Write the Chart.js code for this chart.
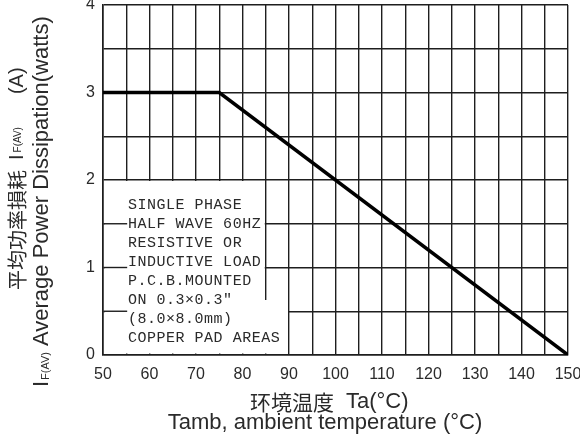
<!DOCTYPE html>
<html>
<head>
<meta charset="utf-8">
<script src="https://cdn.jsdelivr.net/npm/chart.js@4/dist/chart.umd.min.js"></script>
<style>
  html, body { margin: 0; padding: 0; background: #fff; }
  #wrap { width: 580px; height: 441px; }
</style>
</head>
<body>
<div id="wrap"><canvas id="chart" width="580" height="441"></canvas></div>
<script>
// derating curve: flat at 3 W up to 75 °C, then linear down to 0 at 150 °C
const temps = [50, 75, 150];
const power = [3, 3, 0];

const xTickLabels = [50, 60, 70, 80, 90, 100, 110, 120, 130, 140, 150];
const yTickLabels = [0, 1, 2, 3, 4];

const noteLines = [
    'SINGLE PHASE',
    'HALF WAVE 60HZ',
    'RESISTIVE OR',
    'INDUCTIVE LOAD',
    'P.C.B.MOUNTED',
    'ON 0.3\u00D70.3\u2033',
    '(8.0\u00D78.0mm)',
    'COPPER PAD AREAS'
];

const gridColor = '#1e1e1e';
const textColor = '#2a2a2a';

// draw a run of text pieces one after another along the current x direction
function drawRun(ctx, pieces) {
    let pos = 0;
    pieces.forEach(p => {
        pos += p.gap || 0;
        ctx.font = p.font;
        ctx.fillText(p.text, pos, p.shift || 0);
        pos += ctx.measureText(p.text).width;
    });
}

const notePlugin = {
    id: 'notebox',
    beforeDatasetsDraw(chart) {
        const { ctx } = chart;
        const x = chart.scales.x, y = chart.scales.y;
        const x0 = x.getPixelForValue(50) + 1.5;
        const x85 = x.getPixelForValue(85) - 1;
        const x90 = x.getPixelForValue(90) - 1;
        const yTop = y.getPixelForValue(2) + 1;
        const yStep = y.getPixelForValue(0.63);
        const yBot = y.getPixelForValue(0) - 1.5;

        ctx.save();
        // white area behind the note, covering the grid
        ctx.fillStyle = '#fff';
        ctx.beginPath();
        ctx.moveTo(x0, yTop);
        ctx.lineTo(x85, yTop);
        ctx.lineTo(x85, yStep);
        ctx.lineTo(x90, yStep);
        ctx.lineTo(x90, yBot);
        ctx.lineTo(x0, yBot);
        ctx.closePath();
        ctx.fill();

        // short grid stubs left of the text
        ctx.strokeStyle = gridColor;
        ctx.lineWidth = 1.4;
        [0.5, 1, 1.5].forEach(v => {
            const py = y.getPixelForValue(v);
            ctx.beginPath();
            ctx.moveTo(x0 - 1, py);
            ctx.lineTo(x.getPixelForValue(55.2), py);
            ctx.stroke();
        });

        ctx.fillStyle = textColor;
        ctx.font = '15px "Liberation Mono"';
        ctx.letterSpacing = '0.5px';
        ctx.textBaseline = 'middle';
        ctx.textAlign = 'left';
        const tx = x.getPixelForValue(55.4);
        noteLines.forEach((t, i) => ctx.fillText(t, tx, yTop + 24 + i * 19));
        ctx.restore();
    },
    afterDraw(chart) {
        const { ctx } = chart;
        const sans = '"Liberation Sans", Arial, sans-serif';
        const cjk = '"Noto Sans CJK JP", sans-serif';
        ctx.save();
        ctx.fillStyle = textColor;
        ctx.textBaseline = 'middle';
        ctx.textAlign = 'left';

        // y title, outer column (Chinese)
        ctx.save();
        ctx.translate(17, 290);
        ctx.rotate(-Math.PI / 2);
        drawRun(ctx, [
            { text: '平均功率損耗', font: '20px ' + cjk },
            { text: 'I', font: '20px ' + sans, gap: 10 },
            { text: 'F(AV)', font: '10px ' + sans, gap: 2, shift: 1 },
            { text: '(A)', font: '20px ' + sans, gap: 33 }
        ]);
        ctx.restore();

        // y title, inner column (English)
        ctx.save();
        ctx.translate(42, 387);
        ctx.rotate(-Math.PI / 2);
        drawRun(ctx, [
            { text: 'I', font: '22px ' + sans },
            { text: 'F(AV)', font: '11px ' + sans, gap: 1, shift: 4 },
            { text: 'Average Power Dissipation(watts)', font: '22px ' + sans, gap: 6 }
        ]);
        ctx.restore();

        // x title
        ctx.save();
        ctx.translate(250, 402);
        drawRun(ctx, [
            { text: '环境温度', font: '21px ' + cjk },
            { text: 'Ta', font: '22px ' + sans, gap: 12 },
            { text: '(°C)', font: '22px ' + sans }
        ]);
        ctx.restore();

        ctx.textAlign = 'center';
        ctx.font = '22px ' + sans;
        ctx.fillText('Tamb, ambient temperature (°C)', 325, 423);
        ctx.restore();
    }
};

new Chart(document.getElementById('chart').getContext('2d'), {
    type: 'line',
    data: {
        datasets: [{
            data: temps.map((t, i) => ({ x: t, y: power[i] })),
            borderColor: '#000',
            borderWidth: 3.5,
            pointRadius: 0,
            tension: 0,
            fill: false
        }]
    },
    options: {
        responsive: false,
        animation: false,
        layout: { padding: { left: 0, top: 5, right: 12, bottom: 0 }, autoPadding: false },
        plugins: { legend: { display: false }, tooltip: { enabled: false } },
        scales: {
            x: {
                type: 'linear',
                min: 50,
                max: 150,
                afterFit: s => { s.height = 86; s.paddingLeft = 0; s.paddingRight = 0; },
                border: { color: gridColor, width: 1.6 },
                grid: { color: gridColor, lineWidth: 1.4, drawTicks: false },
                ticks: {
                    stepSize: 5,
                    autoSkip: false,
                    maxRotation: 0,
                    padding: 10,
                    color: textColor,
                    font: { family: '"Liberation Sans", Arial, sans-serif', size: 16 },
                    callback: v => xTickLabels.includes(v) ? String(v) : ''
                }
            },
            y: {
                min: 0,
                max: 4,
                afterFit: s => { s.width = 103; s.paddingTop = 0; s.paddingBottom = 0; },
                border: { color: gridColor, width: 1.6 },
                grid: { color: gridColor, lineWidth: 1.4, drawTicks: false },
                ticks: {
                    stepSize: 0.5,
                    autoSkip: false,
                    padding: 8,
                    color: textColor,
                    font: { family: '"Liberation Sans", Arial, sans-serif', size: 16 },
                    callback: v => yTickLabels.includes(v) ? String(v) : ''
                }
            }
        }
    },
    plugins: [notePlugin]
});
</script>
</body>
</html>
